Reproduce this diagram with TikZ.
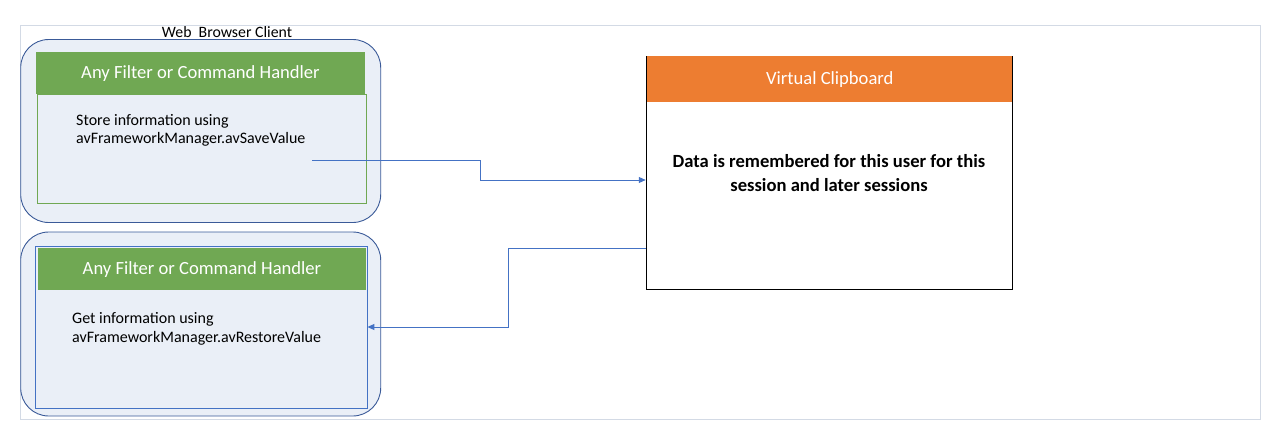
\documentclass[tikz,border=0pt]{standalone}
\usepackage{fontspec}
\setmainfont{Carlito}
\usetikzlibrary{arrows.meta}
\definecolor{framegray}{HTML}{D3DAE5}
\definecolor{roundfill}{HTML}{EAEFF7}
\definecolor{rounddraw}{HTML}{3A5A98}
\definecolor{hdrgreen}{HTML}{70A853}
\definecolor{bodygreen}{HTML}{70A853}
\definecolor{linkblue}{HTML}{4472C4}
\definecolor{hdrorange}{HTML}{ED7D31}
\tikzset{
  roundbox/.style={draw=rounddraw, fill=roundfill, line width=0.9pt, rounded corners=28pt, minimum width=360pt, minimum height=183pt, inner sep=0pt},
  hdrbox/.style={fill=hdrgreen, text=white, minimum width=329pt, minimum height=42pt, inner sep=0pt, text height=14pt, text depth=2.2pt, font=\fontsize{18.6}{22}\selectfont},
  bodytxt/.style={align=left, inner sep=0pt, font=\fontsize{16}{18.7}\selectfont},
  link/.style={draw=linkblue, line width=0.9pt, -{Triangle[length=7pt,width=6pt]}},
}
\begin{document}
\begin{tikzpicture}[x=1pt,y=-1pt]
\useasboundingbox (0,0) rectangle (1280,442);
% outer frame
\node[draw=framegray, line width=0.9pt, minimum width=1240pt, minimum height=394pt, inner sep=0pt] (frame) at (640,222) {};
\node[fill=white, inner xsep=9pt, inner ysep=1pt, anchor=base, font=\fontsize{15.8}{18}\selectfont] (title) at (227,37.5) {Web\ \ Browser Client};
% upper group
\node[roundbox] (r1) at (200.7,131) {};
\node[draw=bodygreen, fill=roundfill, line width=0.8pt, minimum width=329pt, minimum height=109pt, inner sep=0pt] (b1) at (201.5,148.5) {};
\node[hdrbox] (h1) at (200.5,73) {Any Filter or Command Handler};
\node[bodytxt, anchor=west] (t1) at (76,130.3) {Store information using\\avFrameworkManager.avSaveValue};
% lower group
\node[roundbox, minimum height=184pt] (r2) at (200.7,324) {};
\node[draw=linkblue, fill=roundfill, line width=0.8pt, minimum width=332pt, minimum height=162.7pt, inner sep=0pt] (b2) at (201,327.3) {};
\node[hdrbox, minimum width=328pt, minimum height=42.3pt] (h2) at (202,268.9) {Any Filter or Command Handler};
\node[bodytxt, anchor=west] (t2) at (72,328.8) {Get information using\\avFrameworkManager.avRestoreValue};
% clipboard
\node[draw=black, line width=1.1pt, minimum width=366pt, minimum height=233.3pt, inner sep=0pt] (clip) at (829.3,172.7) {};
\node[fill=hdrorange, text=white, minimum width=365pt, minimum height=45.7pt, inner sep=0pt, text height=14pt, text depth=2.2pt, font=\fontsize{18.6}{22}\selectfont] (ch) at (829.8,78.9) {Virtual Clipboard};
\node[align=center, inner sep=0pt, font=\fontsize{18.6}{24}\selectfont\bfseries] (ct) at (829,173.5) {Data is remembered for this user for this\\session and later sessions};
% connectors
\coordinate (s1) at (312,160);
\coordinate (k1) at (480,160);
\coordinate (k2) at (480,180);
\draw[link] (s1) -- (k1) -- (k2) -- (clip.west |- k2);
\coordinate (y2) at (0,248);
\coordinate (k3) at (508,248);
\coordinate (k4) at (508,327);
\draw[link] (clip.west |- y2) -- (k3) -- (k4) -- (b2.east |- k4);
\end{tikzpicture}
\end{document}
